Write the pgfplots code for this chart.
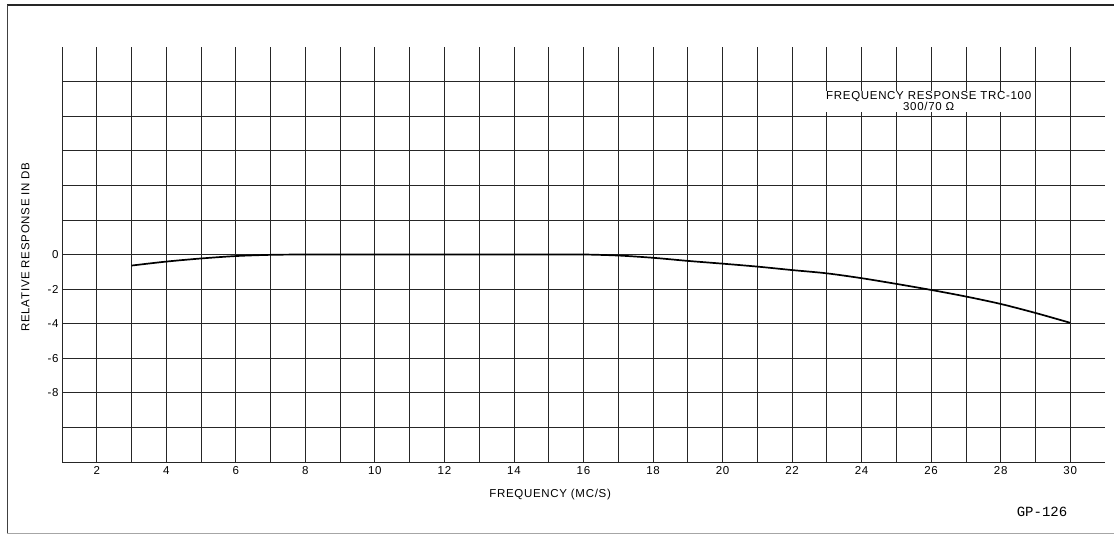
\documentclass[border=0pt]{standalone}
\usepackage{pgfplots}
\pgfplotsset{compat=1.18}
\usepackage{fontspec}
\setmainfont{Liberation Sans}[LetterSpace=6]
\newfontfamily\gpfont{Liberation Mono}
\begin{document}
\begin{tikzpicture}[x=1pt,y=1pt]
\useasboundingbox (0,0) rectangle (1114,535);
% page frame
\draw[black!85, line width=1.6pt] (7,530) -- (1114,530);
\draw[black!75, line width=1pt] (7,530) -- (7,2);
\draw[black!35, line width=0.8pt] (7,2) -- (1114,2);
\begin{axis}[
  at={(62pt,73pt)}, anchor=south west,
  scale only axis, width=1043pt, height=415pt,
  xmin=1, xmax=31, ymin=-12, ymax=12,
  axis line style={draw=none},
  clip=false,
  xtick={1,...,30},
  xticklabels={,2,,4,,6,,8,,10,,12,,14,,16,,18,,20,,22,,24,,26,,28,,30},
  ytick={-12,-10,...,10},
  yticklabels={,,-8,-6,-4,-2,0,,,,,},
  major tick length=0pt,
  grid=major,
  major grid style={black!85, line width=0.8pt},
  tick label style={font=\fontsize{11.5}{12}\selectfont},
  xticklabel style={yshift=-0.5pt, text height=8.4pt, text depth=0pt},
  /pgf/number format/assume math mode=true,
]
\addplot[black, line width=1.7pt, smooth] coordinates {
(3,-0.64) (4,-0.41) (5,-0.23) (6,-0.09) (7,-0.02) (8,0) (9,0) (10,0)
(11,0) (12,0) (13,0) (14,0) (15,0) (16,0) (17,-0.06) (18,-0.19)
(19,-0.37) (20,-0.53) (21,-0.70) (22,-0.90) (23,-1.09) (24,-1.37)
(25,-1.70) (26,-2.05) (27,-2.43) (28,-2.86) (29,-3.38) (30,-3.95)
};
\node[font=\fontsize{11.5}{12}\selectfont] at (axis cs:15.04,-13.9) {FREQUENCY (MC/S)};
\node[font=\fontsize{11.5}{12}\selectfont, rotate=90] at (axis cs:-0.05,0.43) {RELATIVE RESPONSE IN DB};
\node[font=\fontsize{11.5}{11}\selectfont, fill=white, inner sep=1pt, align=center] at (axis cs:25.93,8.85) {FREQUENCY RESPONSE TRC-100\\300/70 Ω};
\end{axis}
\node[font=\gpfont\fontsize{14}{16}\selectfont] at (1042,23) {GP-126};
\end{tikzpicture}
\end{document}
